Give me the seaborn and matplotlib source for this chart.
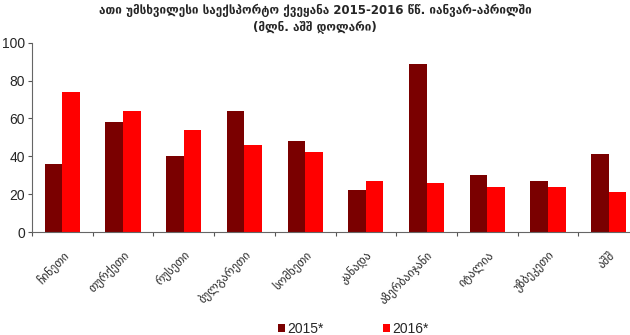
import matplotlib
matplotlib.use("Agg")
import matplotlib.pyplot as plt
import seaborn as sns
import pandas as pd
from matplotlib.patches import Patch
from matplotlib.ticker import FixedLocator

countries = ["ჩინეთი", "თურქეთი", "რუსეთი", "ბულგარეთი", "სომხეთი",
             "კანადა", "აზერბაიჯანი", "იტალია", "უზბეკეთი", "აშშ"]
values_2015 = [36, 58, 40, 64, 48, 22, 89, 30, 27, 41]
values_2016 = [74, 64, 54, 46, 42, 27, 26, 24, 24, 21]
series = ["2015*", "2016*"]
colors = ["#7a0000", "#ff0000"]
title = "ათი უმსხვილესი საექსპორტო ქვეყანა 2015-2016 წწ. იანვარ-აპრილში\n(მლნ. აშშ დოლარი)"

df = pd.DataFrame({
    "country": countries * 2,
    "value": values_2015 + values_2016,
    "year": [series[0]] * len(countries) + [series[1]] * len(countries),
})

sns.set_theme(style="white")
plt.rcParams['font.family'] = ['Liberation Sans', 'DejaVu Sans']

fig = plt.figure(figsize=(6.3, 3.35), dpi=100)
ax = fig.add_axes([32/630, 1 - 232/335, 607/630, (232 - 42.7)/335])

sns.barplot(data=df, x="country", y="value", hue="year", palette=colors,
            width=0.58, gap=0, saturation=1, linewidth=0, ax=ax, legend=False)

ax.set_ylim(0, 100)
ax.set_xlim(-0.5, len(countries) - 0.5)
ax.set_yticks([0, 20, 40, 60, 80, 100])
ax.tick_params(axis='y', labelsize=10, length=3, width=0.8, color='#555555', pad=2, left=True)
ax.set_xlabel("")
ax.set_ylabel("")
for s in ["top", "right"]:
    ax.spines[s].set_visible(False)
for s in ["left", "bottom"]:
    ax.spines[s].set_color("#666666")
    ax.spines[s].set_linewidth(0.8)

# tick marks at category boundaries, labels at centres
ax.xaxis.set_major_locator(FixedLocator([i - 0.5 for i in range(len(countries) + 1)]))
ax.xaxis.set_major_formatter(plt.NullFormatter())
ax.xaxis.set_minor_locator(FixedLocator(list(range(len(countries)))))
ax.set_xticklabels(countries, minor=True, rotation=45, ha='right',
                   rotation_mode='anchor', family=['DejaVu Sans'], fontsize=8.5)
ax.tick_params(axis='x', which='major', length=3, width=0.8, color='#555555', bottom=True, direction='out')
ax.tick_params(axis='x', which='minor', length=0, pad=12)

fig.text(0.5, 1 - 19/335, title, ha='center', va='center', fontsize=8.5,
         fontweight='bold', family=['DejaVu Sans'], linespacing=1.45)

handles = [Patch(facecolor=c, edgecolor='none', label=l) for c, l in zip(colors, series)]
fig.legend(handles=handles, loc='center', bbox_to_anchor=(353/630, 1 - 329/335), ncol=2,
           frameon=False, fontsize=10, handlelength=0.5, handleheight=0.5,
           handletextpad=0.15, columnspacing=4.3)

fig.savefig("out.png", dpi=100)
